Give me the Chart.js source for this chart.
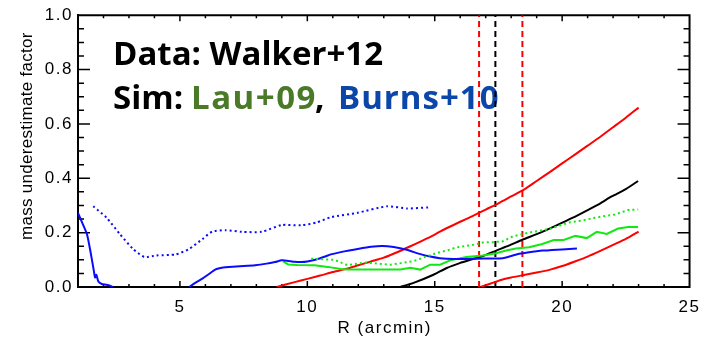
<!DOCTYPE html>
<html>
<head>
<meta charset="utf-8">
<title>mass underestimate factor</title>
<script src="https://cdn.jsdelivr.net/npm/chart.js@4/dist/chart.umd.min.js"></script>
<style>
  html, body { margin: 0; padding: 0; background: #fff; }
</style>
</head>
<body>
<canvas id="bias" width="709" height="340"></canvas>
<script>
// radii (arcmin) and bias values, one pair of arrays per curve
var walkerR    = [13.65, 14.17, 14.95, 15.47, 15.98, 16.5, 16.89, 17.41, 17.9, 18.44, 19.1, 19.74, 20.4, 21.04, 21.5, 21.94, 22.5, 22.98];
var walkerBias = [0.0, 0.015, 0.045, 0.07, 0.088, 0.103, 0.114, 0.134, 0.152, 0.174, 0.198, 0.225, 0.254, 0.285, 0.308, 0.333, 0.36, 0.39];

var walkerHiR    = [8.8, 9.5, 10.0, 10.5, 11.0, 11.5, 12.0, 12.5, 13.0, 13.5, 14.0, 14.5, 15.0, 15.5, 16.0, 16.5, 17.0, 17.5, 18.0, 18.5, 19.0, 19.5, 20.0, 20.5, 21.0, 21.5, 22.0, 22.5, 23.0];
var walkerHiBias = [0.0, 0.018, 0.03, 0.042, 0.055, 0.066, 0.08, 0.094, 0.108, 0.127, 0.148, 0.17, 0.193, 0.218, 0.24, 0.262, 0.285, 0.308, 0.333, 0.358, 0.39, 0.422, 0.455, 0.487, 0.52, 0.553, 0.588, 0.623, 0.66];

var walkerLoR    = [16.8, 17.2, 17.6, 18.0, 18.5, 19.0, 19.5, 20.0, 20.5, 21.0, 21.5, 22.0, 22.5, 23.0];
var walkerLoBias = [0.0, 0.013, 0.026, 0.035, 0.044, 0.053, 0.063, 0.077, 0.094, 0.112, 0.133, 0.155, 0.177, 0.204];

var lauR    = [9.05, 9.25, 9.6, 10.28, 10.8, 11.32, 11.6, 12.5, 13.65, 14.04, 14.43, 14.82, 15.21, 15.6, 16.24, 16.89, 17.41, 17.8, 18.19, 18.7, 19.22, 19.67, 20.06, 20.52, 20.97, 21.36, 21.75, 22.2, 22.59, 22.98];
var lauBias = [0.094, 0.083, 0.081, 0.08, 0.074, 0.066, 0.064, 0.064, 0.064, 0.071, 0.064, 0.082, 0.082, 0.098, 0.11, 0.116, 0.124, 0.134, 0.142, 0.146, 0.158, 0.173, 0.173, 0.188, 0.18, 0.203, 0.195, 0.215, 0.221, 0.221];

var lauDotR    = [10.15, 10.6, 11.06, 11.58, 12.23, 12.8, 13.26, 13.7, 14.17, 14.6, 15.08, 15.47, 15.86, 16.5, 16.9, 17.3, 17.67, 18.06, 18.7, 19.48, 20.26, 20.8, 21.29, 22.07, 22.59, 22.98];
var lauDotBias = [0.104, 0.102, 0.1, 0.08, 0.09, 0.086, 0.082, 0.088, 0.095, 0.11, 0.125, 0.134, 0.146, 0.155, 0.164, 0.165, 0.168, 0.186, 0.2, 0.213, 0.237, 0.245, 0.255, 0.267, 0.283, 0.285];

// null splits the curve where it drops below zero
var burnsR    = [1.0, 1.15, 1.35, 1.5, 1.62, 1.67, 1.72, 1.8, 1.93, 2.12, 2.25, 2.36, 3.8, 5.36, 5.6, 5.88, 6.1, 6.4, 6.7, 6.92, 7.5, 7.95, 8.4, 8.73, 9.0, 9.2, 9.5, 9.76, 10.0, 10.35, 10.7, 10.92, 11.5, 11.97, 12.5, 12.94, 13.39, 13.9, 14.4, 14.82, 15.2, 15.47, 16.0, 16.63, 17.2, 17.67, 18.0, 18.31, 18.7, 19.22, 19.6, 20.0, 20.58];
var burnsBias = [0.273, 0.24, 0.195, 0.125, 0.06, 0.035, 0.045, 0.02, 0.011, 0.008, 0.005, 0.0, null, 0.0, 0.015, 0.031, 0.045, 0.065, 0.072, 0.074, 0.077, 0.08, 0.086, 0.092, 0.098, 0.097, 0.093, 0.092, 0.094, 0.101, 0.112, 0.12, 0.132, 0.14, 0.148, 0.151, 0.147, 0.137, 0.122, 0.112, 0.106, 0.104, 0.103, 0.104, 0.105, 0.106, 0.114, 0.122, 0.128, 0.134, 0.136, 0.138, 0.142];

var burnsDotR    = [1.6, 2.12, 2.64, 3.16, 3.61, 4.07, 4.84, 5.36, 5.88, 6.27, 6.79, 7.43, 8.21, 8.99, 9.76, 10.35, 10.93, 11.97, 13.13, 13.91, 14.75];
var burnsDotBias = [0.297, 0.255, 0.195, 0.14, 0.11, 0.116, 0.12, 0.14, 0.176, 0.204, 0.209, 0.203, 0.203, 0.228, 0.227, 0.237, 0.257, 0.273, 0.297, 0.289, 0.293];

// r500 and its error range
var r500Lines  = [16.74, 17.38, 18.44];
var r500Colors = ["#ff0000", "#000000", "#ff0000"];

var xTickLabels = [5, 10, 15, 20, 25];
var yTickLabels = [0.0, 0.2, 0.4, 0.6, 0.8, 1.0];

var xMin = 1, xMax = 25, yMin = 0, yMax = 1;

function pts(r, v) {
    return r.map(function(x, i) { return { x: x, y: v[i] }; });
}

function curve(r, v, color, dash, tension) {
    return {
        data: pts(r, v),
        borderColor: color,
        borderWidth: 2,
        borderDash: dash || [],
        pointRadius: 0,
        tension: tension
    };
}

var datasets = [
    curve(burnsDotR, burnsDotBias, "#0a0aff", [2, 3], 0.2),
    curve(lauDotR, lauDotBias, "#12e812", [2, 3], 0),
    curve(burnsR, burnsBias, "#0a0aff", null, 0.2),
    curve(lauR, lauBias, "#12e812", null, 0),
    curve(walkerHiR, walkerHiBias, "#ff0000", null, 0.2),
    curve(walkerLoR, walkerLoBias, "#ff0000", null, 0.2),
    curve(walkerR, walkerBias, "#000000", null, 0.2)
];

r500Lines.forEach(function(x, i) {
    datasets.push({
        data: [{ x: x, y: yMin }, { x: x, y: yMax }],
        borderColor: r500Colors[i],
        borderWidth: 2,
        borderDash: [6, 4],
        pointRadius: 0
    });
});

// plot box
datasets.push({
    data: [{ x: xMin, y: yMin }, { x: xMax, y: yMin }, { x: xMax, y: yMax }, { x: xMin, y: yMax }, { x: xMin, y: yMin }],
    borderColor: "#000",
    borderWidth: 2,
    pointRadius: 0,
    tension: 0,
    clip: 2
});

// IDL-style inward ticks: a 'line' point centred on the box edge,
// the outer half is clipped away by the chart area
function tickMarks(points, radii, rotation) {
    return {
        data: points,
        showLine: false,
        pointStyle: "line",
        pointRadius: radii,
        pointRotation: rotation,
        pointBorderColor: "#000",
        pointBorderWidth: 1.5,
        clip: 0
    };
}

var xt = [], xtR = [];
for (var v = xMin + 1; v < xMax; v++) {
    xt.push({ x: v, y: yMin }, { x: v, y: yMax });
    var rx = v % 5 === 0 ? 6 : 3;
    xtR.push(rx, rx);
}
var yt = [], ytR = [];
for (var k = 1; k < 20; k++) {
    yt.push({ x: xMin, y: k / 20 }, { x: xMax, y: k / 20 });
    var ry = k % 4 === 0 ? 12 : 6;
    ytR.push(ry, ry);
}
datasets.push(tickMarks(xt, xtR, 90));
datasets.push(tickMarks(yt, ytR, 0));

// label block and axis titles
var notes = {
    id: "notes",
    beforeDraw: function(c) {
        c.ctx.letterSpacing = "1.5px";
    },
    beforeDatasetsDraw: function(c) {
        var ctx = c.ctx;
        ctx.save();
        ctx.letterSpacing = "0px";
        ctx.font = "bold 33px 'Open Sans'";
        ctx.textBaseline = "alphabetic";
        ctx.fillStyle = "#000";
        ctx.fillText("Data: Walker+12", 113, 65);
        ctx.fillText("Sim:", 113, 109);
        ctx.letterSpacing = "1.5px";
        ctx.fillStyle = "#4a7a28";
        ctx.fillText("Lau+09", 191, 109);
        ctx.fillStyle = "#000";
        ctx.fillText(",", 315, 109);
        ctx.fillStyle = "#0b46a8";
        ctx.letterSpacing = "1px";
        ctx.fillText("Burns+10", 338, 109);
        ctx.restore();
    },
    afterDraw: function(c) {
        var ctx = c.ctx, a = c.chartArea;
        ctx.save();
        ctx.fillStyle = "#000";
        ctx.font = "17px 'Liberation Sans'";
        ctx.textAlign = "center";
        ctx.textBaseline = "alphabetic";
        ctx.letterSpacing = "1.5px";
        ctx.fillText("R (arcmin)", (a.left + a.right) / 2 + 1, 333);
        ctx.letterSpacing = "0.3px";
        ctx.translate(27, (a.top + a.bottom) / 2 - 15);
        ctx.rotate(-Math.PI / 2);
        ctx.textBaseline = "middle";
        ctx.fillText("mass underestimate factor", 0, 0);
        ctx.restore();
    }
};

var tickFont = { family: "'Liberation Sans'", size: 17 };

new Chart(document.getElementById("bias"), {
    type: "line",
    data: { datasets: datasets },
    options: {
        responsive: false,
        animation: false,
        layout: { padding: { top: 11, right: 13, left: 0, bottom: 0 } },
        plugins: { legend: { display: false }, tooltip: { enabled: false } },
        scales: {
            x: {
                type: "linear",
                min: xMin,
                max: xMax,
                grid: { display: false, drawTicks: false },
                border: { display: true, color: "#000", width: 2 },
                afterBuildTicks: function(s) { s.ticks = xTickLabels.map(function(v) { return { value: v }; }); },
                afterFit: function(s) { s.height = 53; },
                ticks: { color: "#000", font: tickFont, padding: 10, maxRotation: 0, autoSkip: false }
            },
            y: {
                min: yMin,
                max: yMax,
                grid: { display: false, drawTicks: false },
                border: { display: true, color: "#000", width: 2 },
                afterBuildTicks: function(s) { s.ticks = yTickLabels.map(function(v) { return { value: v }; }); },
                afterFit: function(s) { s.width = 78; },
                ticks: { color: "#000", font: tickFont, padding: 5, autoSkip: false, callback: function(v) { return v.toFixed(1); } }
            }
        }
    },
    plugins: [notes]
});
</script>
</body>
</html>
